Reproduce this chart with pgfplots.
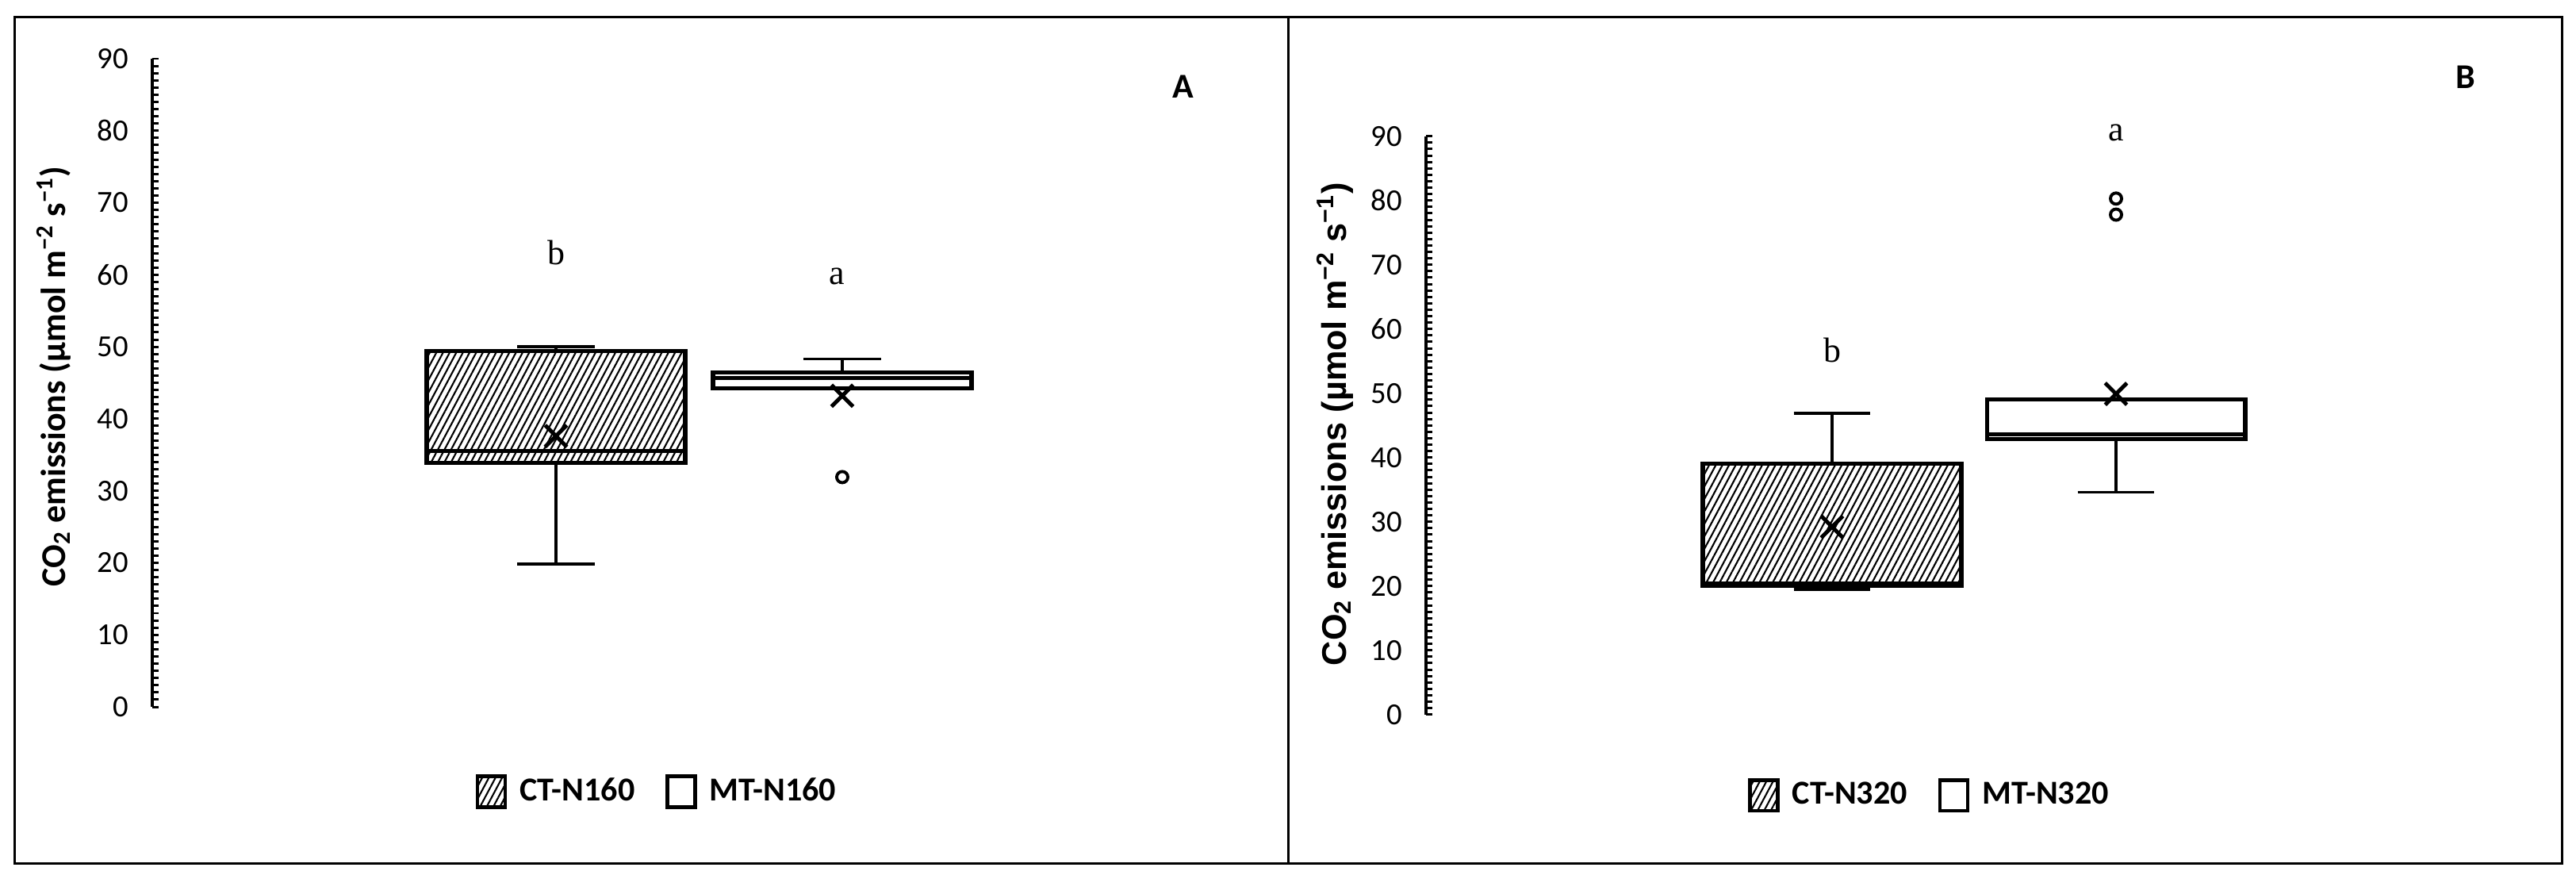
\documentclass[border=0pt]{standalone}
\usepackage{pgfplots}
\pgfplotsset{compat=1.18}
\usepgfplotslibrary{statistics}
\usetikzlibrary{patterns.meta}
\usepackage{fontspec}
\setmainfont{Carlito}
\newfontfamily\arialfont{Liberation Sans}
\newfontfamily\timesfont{Liberation Serif}

\tikzset{hatch/.style={pattern={Lines[angle=62,distance=2.1pt,line width=0.6pt]}}}

\pgfplotsset{
  panel/.style={
    scale only axis,
    clip=false,
    axis x line=none,
    axis y line*=left,
    ymin=0, ymax=90,
    ytick={0,10,...,90},
    minor y tick num=9,
    tick align=inside,
    major tick length=2.4pt,
    minor tick length=2.4pt,
    every tick/.style={black, line width=0.85pt},
    axis line style={line width=0.9pt, -},
    /pgf/number format/assume math mode=true,
    tick label style={font=\fontsize{11}{13}\selectfont},
    yticklabel style={xshift=-5pt},
    legend columns=2,
    legend style={draw=none, fill=none, anchor=center,
      font=\bfseries\fontsize{12}{14}\selectfont,
      /tikz/every odd column/.append style={column sep=2.5pt},
      /tikz/every even column/.append style={column sep=9pt}},
    boxplot/draw direction=y,
  },
  bx/.style={black, line width=1.5pt, mark=o, mark size=2pt,
    mark options={line width=1.1pt},
    boxplot/every whisker/.style={line width=1.1pt},
    boxplot/every median/.style={line width=1.4pt}},
  meanmk/.style={forget plot, only marks, black, mark=x, mark size=5.5pt,
    mark options={line width=1.4pt}},
  ctleg/.style={legend image code/.code={\draw[line width=1.3pt, hatch] (0pt,-5.5pt) rectangle (10pt,5.5pt);}},
  mtleg/.style={legend image code/.code={\draw[line width=1.3pt, fill=white] (0pt,-5.5pt) rectangle (10pt,5.5pt);}},
}

\begin{document}
\begin{tikzpicture}
\path (0,0) rectangle (324.8mm,110.2mm);
\draw[line width=0.3mm] (1.8mm,1.4mm) rectangle (323mm,108mm);
\draw[line width=0.3mm] (162.4mm,1.4mm) -- (162.4mm,108mm);

% panel A
\begin{axis}[panel,
  at={(19.2mm,21.1mm)}, anchor=south west,
  width=137.9mm, height=81.7mm,
  xmin=-0.41, xmax=3.41,
  ylabel={\bfseries\fontsize{12.5}{14}\selectfont CO\textsubscript{2} emissions (µmol m\textsuperscript{−2} s\textsuperscript{−1})},
  ylabel style={at={(axis description cs:-0.090,0.51)}, anchor=center},
  legend style={at={(axis description cs:0.463,-0.131)}},
]
\addplot[bx, forget plot, boxplot prepared={draw direction=y, draw position=1,
  lower whisker=19.8, lower quartile=33.9, median=35.5,
  upper quartile=49.4, upper whisker=50.0,
  box extend=0.903, whisker extend=0.27},
  boxplot/every box/.style={hatch}] coordinates {};
\addplot[bx, forget plot, boxplot prepared={draw direction=y, draw position=2,
  lower whisker=44.2, lower quartile=44.2, median=45.7,
  upper quartile=46.4, upper whisker=48.3,
  box extend=0.903, whisker extend=0.27}] table[row sep=\\, y index=0] {31.9\\};
\addplot[meanmk] coordinates {(1,37.6) (2,43.2)};
\addlegendimage{ctleg}
\addlegendentry{CT-N160}
\addlegendimage{mtleg}
\addlegendentry{MT-N160}
\node[font=\timesfont\fontsize{12.5}{14}\selectfont] at (axis cs:1,63.1) {b};
\node[font=\timesfont\fontsize{12.5}{14}\selectfont] at (axis cs:1.98,59.8) {a};
\node[font=\bfseries\fontsize{12.5}{14}\selectfont] at (axis cs:3.19,86.1) {A};
\end{axis}

% panel B
\begin{axis}[panel,
  at={(179.8mm,20.13mm)}, anchor=south west,
  width=138.2mm, height=72.9mm,
  xmin=-0.43, xmax=3.43,
  ylabel={\arialfont\bfseries\fontsize{12.3}{14}\selectfont CO\textsubscript{2} emissions (µmol m\textsuperscript{−2} s\textsuperscript{−1})},
  ylabel style={at={(axis description cs:-0.083,0.502)}, anchor=center},
  legend style={at={(axis description cs:0.461,-0.140)}},
]
\addplot[bx, forget plot, boxplot prepared={draw direction=y, draw position=1,
  lower whisker=19.5, lower quartile=20.1, median=20.4,
  upper quartile=39.0, upper whisker=46.9,
  box extend=0.91, whisker extend=0.27},
  boxplot/every box/.style={hatch}] coordinates {};
\addplot[bx, forget plot, boxplot prepared={draw direction=y, draw position=2,
  lower whisker=34.6, lower quartile=42.9, median=43.6,
  upper quartile=49.0, upper whisker=49.0,
  box extend=0.91, whisker extend=0.27}] table[row sep=\\, y index=0] {77.8\\ 80.3\\};
\addplot[meanmk] coordinates {(1,29.2) (2,49.9)};
\addlegendimage{ctleg}
\addlegendentry{CT-N320}
\addlegendimage{mtleg}
\addlegendentry{MT-N320}
\node[font=\timesfont\fontsize{12.5}{14}\selectfont] at (axis cs:1,56.7) {b};
\node[font=\timesfont\fontsize{12.5}{14}\selectfont] at (axis cs:2,90.5) {a};
\node[font=\bfseries\fontsize{12.5}{14}\selectfont] at (axis cs:3.23,99.2) {B};
\end{axis}
\end{tikzpicture}
\end{document}
